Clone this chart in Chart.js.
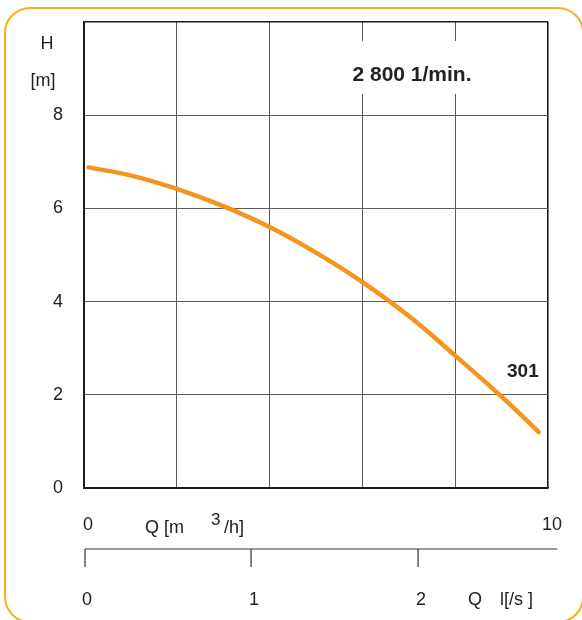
<!DOCTYPE html>
<html>
<head>
<meta charset="utf-8">
<script src="https://cdn.jsdelivr.net/npm/chart.js@4/dist/chart.umd.min.js"></script>
<style>
  html, body { margin: 0; padding: 0; background: #fff; overflow: hidden; }
  #frame {
    position: absolute; left: 4px; top: 7px; width: 580px; height: 616px;
    border: 2.5px solid #F3B21C; border-radius: 26px; box-sizing: border-box;
  }
  #chart { position: absolute; left: 0; top: 0; }
</style>
</head>
<body>
<div id="frame"></div>
<canvas id="chart" width="582" height="620"></canvas>
<script>
// Courbe de pompe 301 — H [m] en fonction de Q [m3/h], 2 800 1/min.
const qM3h  = [0.1, 1, 2, 3, 4, 5, 6, 7, 8, 9, 9.8];
const headM = [6.88, 6.71, 6.42, 6.05, 5.6, 5.05, 4.42, 3.69, 2.84, 1.96, 1.2];

const xTickLabels = [0, 10];          // m3/h, seuls labels affichés
const yTickLabels = [0, 2, 4, 6, 8];  // m
const lsTicks     = [0, 1, 2];        // l/s sur l'axe secondaire
const M3H_PER_LS  = 3.6;

const FONT   = '"Liberation Sans", Arial, Helvetica, sans-serif';
const INK    = '#222';
const FRAME  = '#1a1a1a';
const GRID   = '#5c5c5c';

// ─── Textes & axe secondaire l/s ─────────────────────────────────────────
const annotations = {
  id: 'annotations',
  afterDraw(chart) {
    const { ctx, scales: { x } } = chart;
    ctx.save();
    ctx.fillStyle = INK;
    ctx.textBaseline = 'middle';

    ctx.font = `18px ${FONT}`;
    ctx.textAlign = 'center';
    ctx.fillText('H', 47, 44);
    ctx.fillText('[m]', 43, 81);

    // titre axe Q [m3/h]
    ctx.textAlign = 'left';
    ctx.textBaseline = 'alphabetic';
    ctx.fillText('Q [m', 145, 533);
    ctx.font = `17px ${FONT}`;
    ctx.fillText('3', 211, 525);
    ctx.font = `18px ${FONT}`;
    ctx.fillText('/h]', 224, 533);

    // vitesse
    ctx.font = `bold 21px ${FONT}`;
    ctx.textAlign = 'center';
    ctx.textBaseline = 'middle';
    const w = ctx.measureText('2 800 1/min.').width;
    ctx.fillStyle = '#fff';
    ctx.fillRect(412 - w / 2 - 6, 41, w + 12, 53);
    ctx.fillStyle = INK;
    ctx.fillText('2 800 1/min.', 412, 75);

    ctx.font = `bold 19px ${FONT}`;
    ctx.textAlign = 'left';
    ctx.fillText('301', 507, 372);

    // axe secondaire en l/s
    const yLine = 549;
    ctx.strokeStyle = '#333';
    ctx.lineWidth = 1.2;
    ctx.beginPath();
    ctx.moveTo(x.getPixelForValue(0) + 1, yLine);
    ctx.lineTo(x.getPixelForValue(10.2), yLine);
    lsTicks.forEach((l) => {
      const px = x.getPixelForValue(l * M3H_PER_LS) + (l === 0 ? 1 : 0);
      ctx.moveTo(px, yLine);
      ctx.lineTo(px, 567);
    });
    ctx.stroke();

    ctx.font = `18px ${FONT}`;
    ctx.textAlign = 'center';
    lsTicks.forEach((l) => {
      ctx.fillText(String(l), x.getPixelForValue(l * M3H_PER_LS) + 3, 600);
    });
    ctx.fillText('Q', 475, 600);
    ctx.textAlign = 'left';
    ctx.fillText('l[/s ]', 500, 600);
    ctx.restore();
  },
};

const edgeColor = (v, lo, hi) => (v === lo || v === hi ? FRAME : GRID);

new Chart(document.getElementById('chart'), {
  type: 'line',
  data: {
    datasets: [{
      data: qM3h.map((q, i) => ({ x: q, y: headM[i] })),
      borderColor: '#F7941D',
      borderWidth: 4.5,
      borderCapStyle: 'round',
      pointRadius: 0,
      tension: 0.4,
      fill: false,
    }],
  },
  options: {
    responsive: false,
    animation: false,
    devicePixelRatio: 1,
    layout: { padding: { left: 0, top: 22, right: 34, bottom: 0 } },
    plugins: { legend: { display: false }, tooltip: { enabled: false } },
    scales: {
      x: {
        type: 'linear', min: 0, max: 10,
        afterFit: (s) => { s.height = 132; s.paddingLeft = 0; s.paddingRight = 0; },
        ticks: {
          stepSize: 2, padding: 26, labelOffset: 4, maxRotation: 0,
          color: INK, font: { family: FONT, size: 18 },
          callback: (v) => (xTickLabels.includes(v) ? String(v) : ''),
        },
        grid: {
          drawTicks: false,
          color: (c) => edgeColor(c.tick.value, 0, 10),
          lineWidth: (c) => (c.tick.value === 10 ? 1.6 : 1),
        },
        border: { color: FRAME, width: 1.6 },
      },
      y: {
        type: 'linear', min: 0, max: 10,
        afterFit: (s) => { s.width = 84; s.paddingTop = 0; s.paddingBottom = 0; },
        ticks: {
          stepSize: 2, padding: 21,
          color: INK, font: { family: FONT, size: 18 },
          callback: (v) => (yTickLabels.includes(v) ? String(v) : ''),
        },
        grid: {
          drawTicks: false,
          color: (c) => edgeColor(c.tick.value, 0, 10),
          lineWidth: (c) => (c.tick.value === 10 ? 1.6 : 1),
        },
        border: { color: FRAME, width: 1.6 },
      },
    },
  },
  plugins: [annotations],
});
</script>
</body>
</html>
